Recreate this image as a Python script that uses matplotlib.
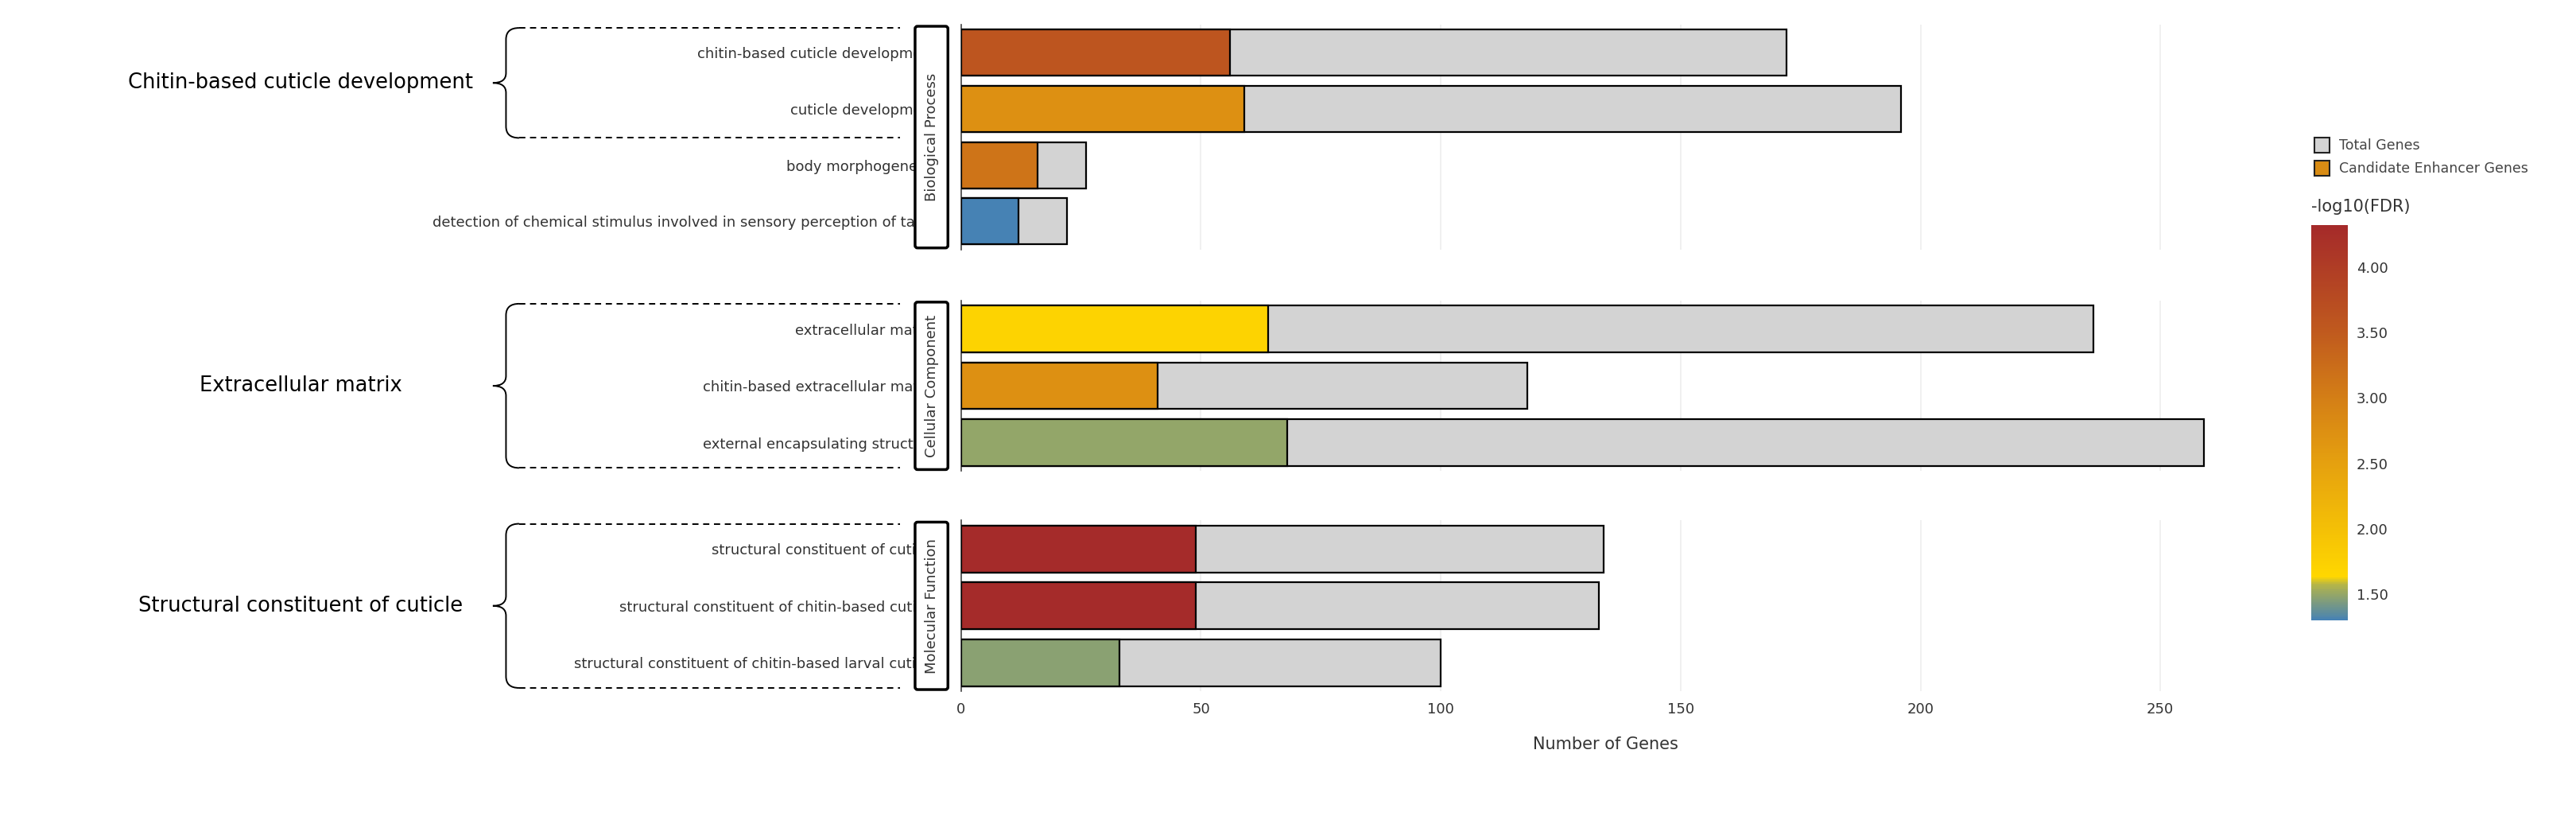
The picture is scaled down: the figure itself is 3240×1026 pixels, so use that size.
import matplotlib
matplotlib.use("Agg")
import matplotlib.pyplot as plt
from matplotlib.colors import LinearSegmentedColormap, Normalize
from matplotlib.patches import FancyBboxPatch, PathPatch, Rectangle
from matplotlib.path import Path
import numpy as np

bp_terms = ["chitin-based cuticle development", "cuticle development", "body morphogenesis",
            "detection of chemical stimulus involved in sensory perception of taste"]
bp_cand = [56, 59, 16, 12]
bp_total = [172, 196, 26, 22]
bp_fdr = [3.6, 2.75, 3.15, 1.3]

cc_terms = ["extracellular matrix", "chitin-based extracellular matrix", "external encapsulating structure"]
cc_cand = [64, 41, 68]
cc_total = [236, 118, 259]
cc_fdr = [1.7, 2.75, 1.5]

mf_terms = ["structural constituent of cuticle", "structural constituent of chitin-based cuticle",
            "structural constituent of chitin-based larval cuticle"]
mf_cand = [49, 49, 33]
mf_total = [134, 133, 100]
mf_fdr = [4.3, 4.3, 1.47]

categories = ["Biological Process", "Cellular Component", "Molecular Function"]
group_labels = ["Chitin-based cuticle development", "Extracellular matrix", "Structural constituent of cuticle"]
cbar_ticks = [1.5, 2.0, 2.5, 3.0, 3.5, 4.0]

cmap = LinearSegmentedColormap.from_list("fdr", [
    (0.0, "#4682b4"), (0.09, "#b5b548"), (0.11, "#ffd700"),
    (0.40, "#e5a00f"), (0.56, "#d47f16"), (0.73, "#c05a1e"), (1.0, "#a52a2a")])
norm = Normalize(1.3, 4.32)

W, H = 1568, 497
fig = plt.figure(figsize=(32.4, 10.26), dpi=100)
sc = 3240 / W

panels = [(bp_terms, bp_cand, bp_total, bp_fdr, 15, 152),
          (cc_terms, cc_cand, cc_total, cc_fdr, 183, 287),
          (mf_terms, mf_cand, mf_total, mf_fdr, 317, 421)]
x0, x1 = 585, 1370
xmax = (x1 - x0) / 2.92
axes = []
for i, (terms, cand, tot, fdr, top, bot) in enumerate(panels):
    ax = fig.add_axes([x0 / W, 1 - bot / H, (x1 - x0) / W, (bot - top) / H])
    y = np.arange(len(terms))
    ax.barh(y, tot, height=0.82, color="#d3d3d3", edgecolor="black", linewidth=1.6, zorder=2)
    ax.barh(y, cand, height=0.82, color=[cmap(norm(v)) for v in fdr], edgecolor="black", linewidth=1.6, zorder=3)
    ax.set_ylim(len(terms) - 0.5, -0.5)
    ax.set_xlim(0, xmax)
    ax.set_yticks(y)
    ax.set_yticklabels(terms, fontsize=13, color="#333333")
    ax.tick_params(axis="y", length=0, pad=22)
    ax.set_xticks([0, 50, 100, 150, 200, 250])
    ax.grid(axis="x", color="#eeeeee", linewidth=1.2, zorder=0)
    for s in ["top", "right", "bottom"]:
        ax.spines[s].set_visible(False)
    ax.spines["left"].set_color("#444444")
    ax.spines["left"].set_linewidth(1.2)
    if i < 2:
        ax.tick_params(axis="x", length=0, labelbottom=False)
    else:
        ax.tick_params(axis="x", length=0, labelsize=13, labelcolor="#333333", pad=10)
        ax.set_xlabel("Number of Genes", fontsize=15, color="#333333", labelpad=18)
    axes.append(ax)

ov = fig.add_axes([0, 0, 1, 1], zorder=-1)
ov.set_xlim(0, W); ov.set_ylim(H, 0); ov.axis("off")
ov.patch.set_alpha(0)
ov2 = fig.add_axes([0, 0, 1, 1], zorder=5)
ov2.set_xlim(0, W); ov2.set_ylim(H, 0); ov2.axis("off")
ov2.patch.set_alpha(0)

# category boxes
for cat, (_, _, _, _, top, bot) in zip(categories, panels):
    ov2.add_patch(FancyBboxPatch((557, top + 1), 20, bot - top - 2, boxstyle="round,pad=0,rounding_size=1.5",
                                 facecolor="white", edgecolor="black", linewidth=2.5))
    ov2.text(567, (top + bot) / 2, cat, rotation=90, ha="center", va="center", fontsize=13, color="#333333")

# brackets
brackets = [(17, 84), (185, 285), (319, 419)]
for lab, (t, b) in zip(group_labels, brackets):
    ov2.plot([316, 548], [t, t], ls=(0, (4, 3)), color="black", lw=1.4)
    ov2.plot([316, 548], [b, b], ls=(0, (4, 3)), color="black", lw=1.4)
    m = (t + b) / 2
    verts = [(316, t), (308, t), (308, t + 7), (308, m - 6), (308, m), (300, m),
             (308, m), (308, m + 6), (308, b - 7), (308, b), (316, b)]
    codes = [Path.MOVETO, Path.CURVE3, Path.CURVE3, Path.LINETO, Path.CURVE3, Path.CURVE3,
             Path.CURVE3, Path.CURVE3, Path.LINETO, Path.CURVE3, Path.CURVE3]
    ov2.add_patch(PathPatch(Path(verts, codes), facecolor="none", edgecolor="black", lw=1.4))
    ov2.text(183 if lab != "Chitin-based cuticle development" else 183, m, lab, ha="center", va="center",
             fontsize=18.5, color="black")

# legend
ov2.add_patch(Rectangle((1409, 84), 9, 9, facecolor="#d3d3d3", edgecolor="#222222", lw=1.5))
ov2.add_patch(Rectangle((1409, 98), 9, 9, facecolor="#d98c14", edgecolor="#222222", lw=1.5))
ov2.text(1424, 88.5, "Total Genes", va="center", fontsize=12.5, color="#444444")
ov2.text(1424, 102.5, "Candidate Enhancer Genes", va="center", fontsize=12.5, color="#444444")
ov2.text(1407, 126, "-log10(FDR)", va="center", fontsize=15, color="#333333")

cax = fig.add_axes([1407 / W, 1 - 378 / H, 22 / W, (378 - 137) / H])
cb = fig.colorbar(plt.cm.ScalarMappable(norm=norm, cmap=cmap), cax=cax)
cb.outline.set_visible(False)
cb.set_ticks(cbar_ticks)
cb.set_ticklabels([f"{v:.2f}" for v in cbar_ticks])
cax.tick_params(length=0, labelsize=13, labelcolor="#333333", pad=8)

fig.savefig("out.png", dpi=100)
